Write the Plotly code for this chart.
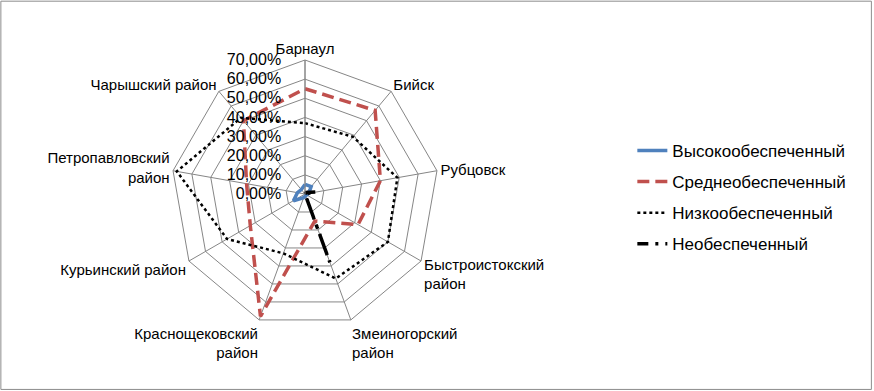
import plotly.graph_objects as go

categories = ["Барнаул", "Бийск", "Рубцовск", "Быстроистокский<br>район",
              "Змеиногорский<br>район", "Краснощековский<br>район",
              "Курьинский район", "Петропавловский<br>район", "Чарышский район"]

high = [0.05, 0.05, 0.02, 0.01, 0.01, 0.02, 0.07, 0.04, 0.03]
medium = [0.55, 0.57, 0.40, 0.32, 0.15, 0.68, 0.33, 0.31, 0.50]
low = [0.37, 0.39, 0.49, 0.50, 0.47, 0.33, 0.47, 0.68, 0.52]
none_ = [0.00, 0.01, 0.06, 0.00, 0.38, 0.00, 0.00, 0.00, 0.00]

series_names = ["Высокообеспеченный", "Среднеобеспеченный", "Низкообеспеченный", "Необеспеченный"]
series_values = [high, medium, low, none_]
styles = [
    dict(color="#4F81BD", width=3.5, dash="solid"),
    dict(color="#C0504D", width=3.5, dash="12px,6px"),
    dict(color="#000000", width=2.5, dash="dot"),
    dict(color="#000000", width=3.5, dash="11px,7px,3px,7px,3px,7px"),
]

fig = go.Figure()
for i, (name, vals, st) in enumerate(zip(series_names, series_values, styles)):
    fig.add_trace(go.Scatterpolar(
        r=vals + [vals[0]],
        theta=categories + [categories[0]],
        mode="lines",
        name=name,
        legendgroup=str(i),
        line=st,
    ))

W, H = 874, 391
cx, cy, R = 305, 194, 134
fig.update_layout(
    width=W, height=H,
    margin=dict(l=0, r=0, t=0, b=0),
    paper_bgcolor="white",
    plot_bgcolor="white",
    separators=", ",
    font=dict(family="Liberation Sans, Arial, sans-serif", color="#000000"),
    polar=dict(
        domain=dict(x=[(cx - R) / W, (cx + R) / W], y=[(H - cy - R) / H, (H - cy + R) / H]),
        bgcolor="white",
        gridshape="linear",
        radialaxis=dict(
            range=[0, 0.7], dtick=0.1, tickformat=".2%",
            ticksuffix="\u00a0\u00a0\u00a0\u00a0",
            angle=90, side="counterclockwise", tickangle=90,
            showline=True, linecolor="#868686", linewidth=1,
            gridcolor="#868686", gridwidth=1, ticks="",
            tickfont=dict(size=16),
        ),
        angularaxis=dict(
            rotation=90, direction="clockwise",
            showline=True, linecolor="#868686", linewidth=1,
            gridcolor="#868686", gridwidth=1, ticks="",
            tickfont=dict(size=15),
        ),
    ),
    legend=dict(
        x=0.7235, y=0.66, xanchor="left", yanchor="top",
        font=dict(size=17),
        traceorder="grouped", tracegroupgap=6,
        bgcolor="rgba(0,0,0,0)",
    ),
    shapes=[dict(type="rect", xref="paper", yref="paper", x0=0.001, y0=0.004, x1=0.997, y1=0.997,
                 line=dict(color="#8c8c8c", width=1))],
)

fig.write_html("out.html", config={"displayModeBar": False},
               post_script="document.body.style.margin='0';")
